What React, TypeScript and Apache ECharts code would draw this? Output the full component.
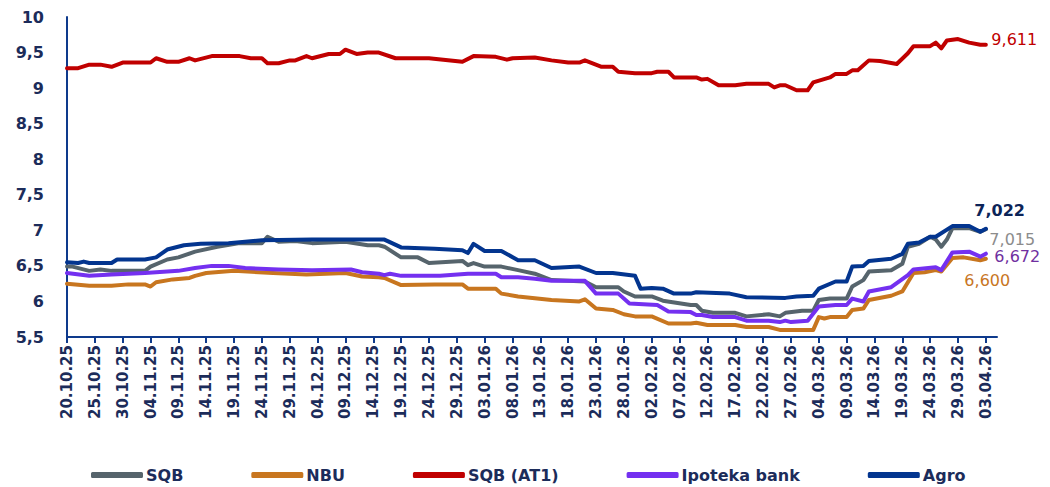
import React, { useEffect, useRef } from "react";
import * as echarts from "echarts";

// Daily date categories 20.10.25 ... 05.04.26 (axis runs two days past the last data point)
const START = Date.UTC(2025, 9, 20);
const DAY_COUNT = 168;
const dates: string[] = [];
for (let i = 0; i < DAY_COUNT; i++) {
  const d = new Date(START + i * 86400000);
  const dd = String(d.getUTCDate()).padStart(2, "0");
  const mm = String(d.getUTCMonth() + 1).padStart(2, "0");
  const yy = String(d.getUTCFullYear() % 100).padStart(2, "0");
  dates.push(`${dd}.${mm}.${yy}`);
}

const yTicks = [5.5, 6, 6.5, 7, 7.5, 8, 8.5, 9, 9.5, 10];

// [day index from 20.10.25, value]
const sqb: [number, number][] = [
  [0, 6.49], [1, 6.49], [4, 6.43], [6, 6.45], [8, 6.43], [14, 6.43], [15, 6.49], [18, 6.59], [20, 6.62],
  [23, 6.7], [27, 6.77], [31, 6.82], [35, 6.82], [36, 6.91], [38, 6.84], [41, 6.85], [44, 6.82], [50, 6.84],
  [54, 6.79], [56, 6.79], [57, 6.77], [60, 6.62], [63, 6.62], [65, 6.54], [71, 6.57], [72, 6.51], [73, 6.54],
  [75, 6.49], [78, 6.49], [81, 6.44], [84, 6.39], [87, 6.3], [93, 6.28], [95, 6.2], [99, 6.2], [100, 6.14],
  [102, 6.07], [105, 6.07], [107, 6.01], [112, 5.95], [113, 5.95], [114, 5.87], [116, 5.84], [120, 5.84],
  [122, 5.79], [126, 5.82], [128, 5.79], [129, 5.84], [132, 5.87], [134, 5.87], [135, 6.02], [137, 6.04],
  [140, 6.04], [141, 6.21], [143, 6.3], [144, 6.42], [148, 6.44], [150, 6.53], [151, 6.77], [153, 6.81],
  [155, 6.91], [156, 6.87], [157, 6.77], [158, 6.87], [159, 7.03], [162, 7.03], [164, 6.98], [165, 7.015],
];

const nbu: [number, number][] = [
  [0, 6.25], [4, 6.22], [8, 6.22], [11, 6.24], [14, 6.24], [15, 6.21], [16, 6.27], [19, 6.31], [22, 6.33],
  [23, 6.36], [25, 6.4], [30, 6.43], [37, 6.4], [43, 6.38], [50, 6.4], [53, 6.35], [56, 6.34], [57, 6.33],
  [60, 6.23], [66, 6.24], [71, 6.24], [72, 6.18], [77, 6.18], [78, 6.11], [81, 6.07], [87, 6.02], [92, 6.0],
  [93, 6.03], [95, 5.9], [98, 5.88], [100, 5.82], [102, 5.79], [105, 5.79], [108, 5.69], [112, 5.69],
  [113, 5.7], [115, 5.67], [120, 5.67], [122, 5.64], [126, 5.64], [128, 5.6], [134, 5.6], [135, 5.78],
  [136, 5.76], [137, 5.78], [140, 5.78], [141, 5.88], [143, 5.9], [144, 6.02], [148, 6.08], [150, 6.14],
  [152, 6.4], [154, 6.41], [156, 6.44], [157, 6.42], [159, 6.61], [161, 6.62], [164, 6.58], [165, 6.6],
];

const sqbAt1: [number, number][] = [
  [0, 9.28], [2, 9.28], [4, 9.33], [6, 9.33], [8, 9.3], [10, 9.36], [15, 9.36], [16, 9.42], [18, 9.37],
  [20, 9.37], [22, 9.42], [23, 9.39], [26, 9.45], [31, 9.45], [33, 9.42], [35, 9.42], [36, 9.35], [38, 9.35],
  [40, 9.39], [41, 9.39], [43, 9.45], [44, 9.42], [47, 9.48], [49, 9.48], [50, 9.54], [52, 9.48], [54, 9.5],
  [56, 9.5], [59, 9.42], [65, 9.42], [71, 9.37], [73, 9.45], [77, 9.44], [79, 9.4], [80, 9.42], [84, 9.43],
  [87, 9.39], [90, 9.36], [92, 9.36], [93, 9.39], [96, 9.3], [98, 9.3], [99, 9.23], [102, 9.21], [105, 9.21],
  [106, 9.23], [108, 9.23], [109, 9.15], [113, 9.15], [114, 9.12], [115, 9.13], [117, 9.04], [120, 9.04],
  [122, 9.06], [126, 9.06], [127, 9.01], [128, 9.04], [129, 9.04], [131, 8.97], [133, 8.97], [134, 9.08],
  [137, 9.15], [138, 9.2], [140, 9.2], [141, 9.25], [142, 9.25], [144, 9.39], [146, 9.38], [149, 9.34],
  [151, 9.49], [152, 9.59], [155, 9.59], [156, 9.64], [157, 9.56], [158, 9.67], [160, 9.69], [162, 9.64],
  [164, 9.61], [165, 9.611],
];

const ipoteka: [number, number][] = [
  [0, 6.4], [4, 6.36], [8, 6.38], [14, 6.4], [20, 6.43], [23, 6.47], [26, 6.5], [29, 6.5], [32, 6.47],
  [38, 6.45], [44, 6.44], [51, 6.45], [53, 6.41], [56, 6.39], [57, 6.37], [58, 6.39], [60, 6.36], [67, 6.36],
  [72, 6.39], [77, 6.39], [78, 6.34], [81, 6.34], [84, 6.32], [87, 6.29], [93, 6.29], [95, 6.11], [99, 6.11],
  [101, 5.97], [106, 5.95], [108, 5.86], [112, 5.85], [113, 5.81], [114, 5.81], [116, 5.78], [120, 5.78],
  [122, 5.73], [126, 5.73], [128, 5.71], [129, 5.73], [130, 5.71], [133, 5.73], [135, 5.93], [138, 5.95],
  [140, 5.95], [141, 6.04], [143, 6.0], [144, 6.14], [148, 6.2], [151, 6.37], [152, 6.45], [156, 6.48],
  [157, 6.44], [159, 6.69], [162, 6.7], [164, 6.63], [165, 6.672],
];

const agro: [number, number][] = [
  [0, 6.55], [2, 6.54], [3, 6.56], [4, 6.54], [8, 6.54], [9, 6.59], [14, 6.59], [16, 6.62], [18, 6.73],
  [21, 6.79], [24, 6.81], [29, 6.82], [35, 6.86], [44, 6.87], [56, 6.87], [57, 6.87], [60, 6.76], [66, 6.74],
  [71, 6.72], [72, 6.68], [73, 6.81], [75, 6.71], [78, 6.71], [81, 6.58], [84, 6.58], [87, 6.47], [92, 6.49],
  [95, 6.4], [98, 6.4], [102, 6.36], [103, 6.18], [105, 6.19], [107, 6.18], [109, 6.11], [112, 6.11],
  [113, 6.13], [119, 6.11], [122, 6.06], [129, 6.05], [131, 6.07], [134, 6.08], [135, 6.18], [138, 6.28],
  [140, 6.28], [141, 6.49], [143, 6.5], [144, 6.57], [148, 6.6], [150, 6.67], [151, 6.81], [153, 6.83],
  [155, 6.91], [156, 6.91], [159, 7.06], [162, 7.06], [164, 6.98], [165, 7.022],
];

const seriesNames = ["SQB", "NBU", "SQB (AT1)", "Ipoteka bank", "Agro"];
const seriesData = [sqb, nbu, sqbAt1, ipoteka, agro];
const lineColors = ["#56646c", "#c8761f", "#c00000", "#7430f0", "#03358f"];
const labelColors = ["#8c8c8c", "#c8761f", "#c00000", "#7030a0", "#0c2458"];
const labelWeights = ["normal", "normal", "normal", "normal", "bold"];
const labelOffsets: [number, number][] = [[-2, 10], [-27, 22], [0, -5], [3, 3], [-17, -18]];

const AXIS_COLOR = "#0e3a8c";
const TEXT_COLOR = "#1c2c5a";
const FONT = "DejaVu Sans";

const fmt = (v: number, digits: number) => v.toFixed(digits).replace(".", ",");

export default function App() {
  const ref = useRef<HTMLDivElement>(null);

  useEffect(() => {
    document.body.style.margin = "0";
    if (!ref.current) return;
    const chart = echarts.init(ref.current, undefined, { renderer: "svg" });
    chart.setOption({
      animation: false,
      backgroundColor: "#ffffff",
      grid: { left: 67, right: 53, top: 17, bottom: 150, containLabel: false },
      legend: {
        data: seriesNames,
        top: 462,
        left: 86,
        icon: "roundRect",
        itemWidth: 52,
        itemHeight: 6,
        itemGap: 68,
        textStyle: { fontFamily: FONT, fontSize: 16, fontWeight: "bold", color: TEXT_COLOR, padding: [0, 0, 0, -2] },
      },
      xAxis: {
        type: "category",
        data: dates,
        boundaryGap: false,
        axisLine: { lineStyle: { color: AXIS_COLOR, width: 2 } },
        axisTick: { show: true, interval: 4, length: 6, lineStyle: { color: AXIS_COLOR, width: 2 } },
        axisLabel: {
          interval: 4,
          rotate: 90,
          margin: 8,
          fontFamily: FONT,
          fontSize: 15,
          fontWeight: "bold",
          color: TEXT_COLOR,
        },
        splitLine: { show: false },
      },
      yAxis: {
        type: "value",
        min: yTicks[0],
        max: yTicks[yTicks.length - 1],
        interval: 0.5,
        axisLine: { show: true, lineStyle: { color: AXIS_COLOR, width: 2 } },
        axisTick: { show: false },
        splitLine: { show: false },
        axisLabel: {
          margin: 23,
          fontFamily: FONT,
          fontSize: 16,
          fontWeight: "bold",
          color: TEXT_COLOR,
          padding: [7, 0, 0, 0],
          formatter: (v: number) => (Number.isInteger(v) ? String(v) : fmt(v, 1)),
        },
      },
      series: seriesNames.map((name, i) => {
        const data = seriesData[i];
        const last = data[data.length - 1];
        return {
          name,
          type: "line",
          data,
          showSymbol: false,
          symbol: "none",
          lineStyle: { color: lineColors[i], width: 4, join: "round", cap: "round" },
          itemStyle: { color: lineColors[i] },
          z: i === 2 ? 2 : 3 + i,
          markPoint: {
            symbol: "circle",
            symbolSize: 1,
            itemStyle: { color: "rgba(0,0,0,0)" },
            label: {
              show: true,
              position: "right",
              distance: 5,
              offset: labelOffsets[i],
              formatter: fmt(last[1], 3),
              fontFamily: FONT,
              fontSize: 16,
              fontWeight: labelWeights[i],
              color: labelColors[i],
            },
            data: [{ coord: [last[0], last[1]] }],
          },
        };
      }),
    });
    return () => chart.dispose();
  }, []);

  return <div ref={ref} style={{ width: 1050, height: 487 }} />;
}
